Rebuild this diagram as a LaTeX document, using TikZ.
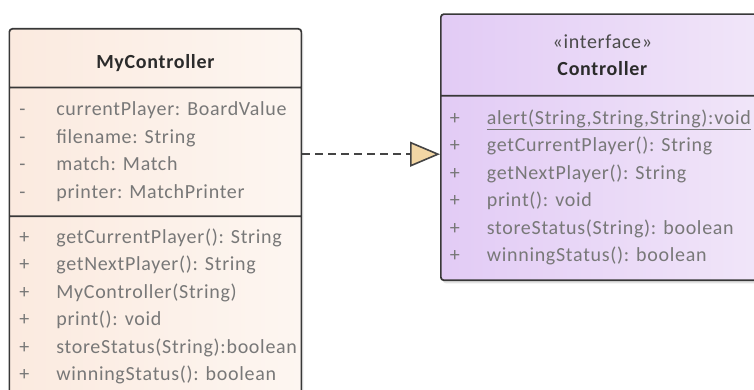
\documentclass[tikz,border=0pt]{standalone}
\usepackage{fontspec}
\setmainfont{Carlito}[LetterSpace=3.5]
\usetikzlibrary{shapes.multipart}
\usetikzlibrary{positioning}
\usetikzlibrary{arrows.meta}
\usetikzlibrary{shadows}

\definecolor{umlborder}{HTML}{383838}
\definecolor{umltext}{HTML}{787878}
\definecolor{umltitle}{HTML}{2B2B2B}
\definecolor{classleft}{HTML}{FBEADF}
\definecolor{classright}{HTML}{FDF6F1}
\definecolor{ifaceleft}{HTML}{E2CBF5}
\definecolor{ifaceright}{HTML}{F1E6F9}
\definecolor{tipfill}{HTML}{F2D6A4}
\definecolor{dashcol}{HTML}{444444}

% one compartment of a class box: height, width, top gap, rows
\newcommand{\compart}[4]{\begin{minipage}[t][#1][t]{#2}\vspace*{#3}#4\end{minipage}}
\newcommand{\umlrow}[3]{\strut\hspace*{#1}\makebox[37pt][l]{#2}#3\par}

\begin{document}
\begin{tikzpicture}[x=1pt,y=-1pt,
  umlclass/.style={rectangle split, rectangle split parts=3, draw=umlborder, line width=1.7pt,
    rounded corners=3pt, inner sep=0pt, anchor=north west,
    drop shadow={opacity=0.22, shadow xshift=2pt, shadow yshift=-3pt}},
  umliface/.style={umlclass, rectangle split parts=2},
  realize/.style={draw=dashcol, line width=1.8pt, dash pattern=on 8pt off 5pt,
    -{Triangle[length=30pt, width=25pt, fill=tipfill, line width=1.6pt]}}]

\useasboundingbox (0,0) rectangle (754,390);
\clip (0,0) rectangle (754,390);

\fontsize{20}{27.5}\selectfont
\color{umltext}

% implementing class
\node (my) [umlclass, left color=classleft, right color=classright] at (8.5,28) {
\nodepart{one}\compart{57pt}{292pt}{20pt}{\centering\color{umltitle}\bfseries\strut MyController\par}
\nodepart{two}\compart{127pt}{292pt}{8pt}{%
\umlrow{10pt}{-}{currentPlayer: BoardValue}
\umlrow{10pt}{-}{filename: String}
\umlrow{10pt}{-}{match: Match}
\umlrow{10pt}{-}{printer: MatchPrinter}}
\nodepart{three}\compart{190pt}{292pt}{7pt}{%
\umlrow{10pt}{+}{getCurrentPlayer(): String}
\umlrow{10pt}{+}{getNextPlayer(): String}
\umlrow{10pt}{+}{MyController(String)}
\umlrow{10pt}{+}{print(): void}
\umlrow{10pt}{+}{storeStatus(String):boolean}
\umlrow{10pt}{+}{winningStatus(): boolean}}
};

% interface
\node (ctrl) [umliface, left color=ifaceleft, right color=ifaceright] at (440,13.3) {
\nodepart{one}\compart{80pt}{323pt}{14pt}{\centering\color{umltitle!85}\strut «interface»\par
\color{umltitle}\bfseries\strut Controller\par}
\nodepart{two}\compart{182.7pt}{323pt}{8.5pt}{%
\umlrow{9pt}{+}{\underline{alert(String,String,String):void}}
\umlrow{9pt}{+}{getCurrentPlayer(): String}
\umlrow{9pt}{+}{getNextPlayer(): String}
\umlrow{9pt}{+}{print(): void}
\umlrow{9pt}{+}{storeStatus(String): boolean}
\umlrow{9pt}{+}{winningStatus(): boolean}}
};

% realization
\coordinate (port) at ([yshift=-7pt]ctrl.west);
\draw[realize] (my.east |- port) -- (port);

\end{tikzpicture}
\end{document}
